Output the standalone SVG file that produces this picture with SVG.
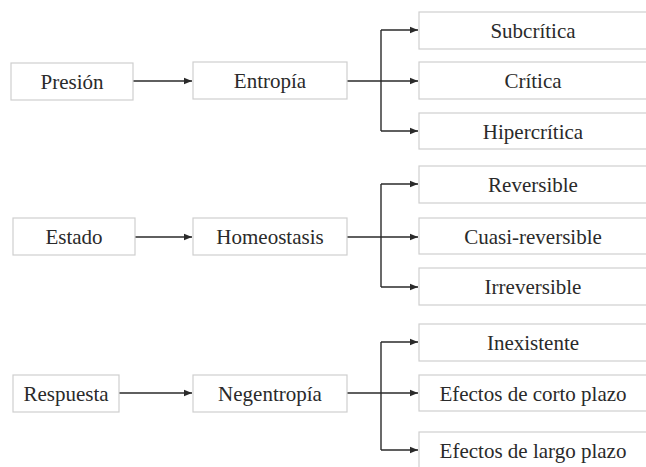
<svg xmlns="http://www.w3.org/2000/svg" width="646" height="467" viewBox="0 0 646 467">
<style>
.box{fill:#fff;stroke:#cfcfcf;stroke-width:1.2}
.t{font-family:'Liberation Serif','Times New Roman',Tinos,'DejaVu Serif',serif;font-size:21px;fill:#2a2a2a;text-anchor:middle}
.c{fill:none;stroke:#2a2a2a;stroke-width:1.4}
</style>
<defs>
<marker id="ah" markerUnits="userSpaceOnUse" markerWidth="10" markerHeight="10" viewBox="0 0 10 10" refX="9" refY="5" orient="auto">
<path d="M1,1.8 L9,5 L1,8.2 Z" fill="#2a2a2a"/>
</marker>
</defs>
<rect width="646" height="467" fill="#fff"/>
<g id="connectors">
<line class="c" x1="133" y1="81" x2="192" y2="81" marker-end="url(#ah)"/>
<line class="c" x1="347" y1="81" x2="418" y2="81" marker-end="url(#ah)"/>
<polyline class="c" points="381,30 381,131"/>
<line class="c" x1="381" y1="30" x2="418" y2="30" marker-end="url(#ah)"/>
<line class="c" x1="381" y1="131" x2="418" y2="131" marker-end="url(#ah)"/>

<line class="c" x1="135" y1="237" x2="192" y2="237" marker-end="url(#ah)"/>
<line class="c" x1="347" y1="237" x2="418" y2="237" marker-end="url(#ah)"/>
<polyline class="c" points="381,184 381,287"/>
<line class="c" x1="381" y1="184" x2="418" y2="184" marker-end="url(#ah)"/>
<line class="c" x1="381" y1="287" x2="418" y2="287" marker-end="url(#ah)"/>

<line class="c" x1="119" y1="393" x2="192" y2="393" marker-end="url(#ah)"/>
<line class="c" x1="347" y1="393" x2="418" y2="393" marker-end="url(#ah)"/>
<polyline class="c" points="381,342 381,450"/>
<line class="c" x1="381" y1="342" x2="418" y2="342" marker-end="url(#ah)"/>
<line class="c" x1="381" y1="450" x2="418" y2="450" marker-end="url(#ah)"/>
</g>
<g id="presion"><rect class="box" x="11" y="63" width="122" height="37"/><text class="t" x="72" y="89">Presión</text></g>
<g id="entropia"><rect class="box" x="193" y="62" width="154" height="37"/><text class="t" x="270" y="88">Entropía</text></g>
<g id="subcritica"><rect class="box" x="419" y="12" width="230" height="37"/><text class="t" x="533" y="38">Subcrítica</text></g>
<g id="critica"><rect class="box" x="419" y="62" width="230" height="37"/><text class="t" x="533" y="88">Crítica</text></g>
<g id="hipercritica"><rect class="box" x="419" y="113" width="230" height="36"/><text class="t" x="533" y="139">Hipercrítica</text></g>

<g id="estado"><rect class="box" x="13" y="218" width="122" height="37"/><text class="t" x="74" y="244">Estado</text></g>
<g id="homeostasis"><rect class="box" x="193" y="218" width="154" height="37"/><text class="t" x="270" y="244">Homeostasis</text></g>
<g id="reversible"><rect class="box" x="419" y="166" width="230" height="37"/><text class="t" x="533" y="192">Reversible</text></g>
<g id="cuasi"><rect class="box" x="419" y="218" width="230" height="36"/><text class="t" x="533" y="244">Cuasi-reversible</text></g>
<g id="irreversible"><rect class="box" x="419" y="268" width="230" height="37"/><text class="t" x="533" y="294">Irreversible</text></g>

<g id="respuesta"><rect class="box" x="13" y="375" width="106" height="37"/><text class="t" x="66" y="401">Respuesta</text></g>
<g id="negentropia"><rect class="box" x="193" y="375" width="154" height="37"/><text class="t" x="270" y="401">Negentropía</text></g>
<g id="inexistente"><rect class="box" x="419" y="324" width="230" height="37"/><text class="t" x="533" y="350">Inexistente</text></g>
<g id="corto"><rect class="box" x="419" y="375" width="230" height="36"/><text class="t" x="533" y="401">Efectos de corto plazo</text></g>
<g id="largo"><rect class="box" x="419" y="432" width="230" height="40"/><text class="t" x="533" y="458">Efectos de largo plazo</text></g>
</svg>
